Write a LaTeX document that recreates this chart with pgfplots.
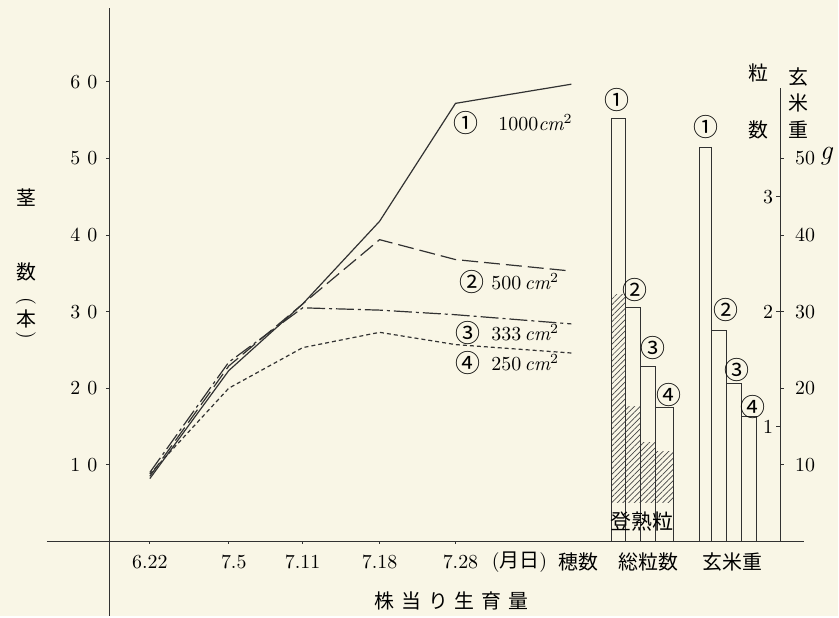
\documentclass[border=0pt]{standalone}
\usepackage{pgfplots}
\pgfplotsset{compat=1.18}
\usepackage{fontspec}
\usetikzlibrary{patterns.meta}
\newfontfamily\cjk{Noto Sans CJK JP}
\definecolor{bg}{RGB}{249,246,230}
\definecolor{ink}{RGB}{50,50,50}
\newcommand{\fs}{\fontsize{10bp}{12bp}\selectfont}
\newcommand{\cn}[1]{{\fontsize{12.5bp}{13bp}\selectfont\cjk #1}}
\begin{document}
\begin{tikzpicture}
\begin{axis}[
  scale only axis, width=419.5bp, height=308.5bp,
  xmin=0, xmax=839, ymin=-9.783, ymax=70.696,
  axis lines=none, clip=false, no markers,
  axis background/.style={fill=bg},
  every node/.style={text=ink, font=\fs, inner sep=0pt},
]
% ---- axes ----
\draw[ink, line width=0.5bp] (axis cs:110,69.65) -- (axis cs:110,-9.783);
\draw[ink, line width=0.5bp] (axis cs:47,0) -- (axis cs:805,0);
\draw[ink, line width=0.5bp] (axis cs:781,0) -- (axis cs:781,59.2);
\pgfplotsinvokeforeach{1,...,6}{
  \draw[ink, line width=0.5bp] (axis cs:106,#10) -- (axis cs:110,#10);
  \node at (axis cs:84,#10) {#1\hspace{3.5bp}0};
}
\pgfplotsinvokeforeach{150,229,303,380,456}{
  \draw[ink, line width=0.5bp] (axis cs:#1,0) -- (axis cs:#1,-0.4);
}
% right axis ticks
\pgfplotsinvokeforeach{10,20,30,40,50}{
  \draw[ink, line width=0.5bp] (axis cs:781,#1) -- (axis cs:785,#1);
}
\pgfplotsinvokeforeach{1,2,3}{
  \draw[ink, line width=0.5bp] (axis cs:777,#1*15) -- (axis cs:781,#1*15);
  \node at (axis cs:769,#1*15) {#1};
}
\node at (axis cs:806,10) {10};
\node at (axis cs:806,20) {20};
\node at (axis cs:806,30) {30};
\node at (axis cs:806,40) {40};
\node at (axis cs:806,50) {50};
\node at (axis cs:827,50.3) {\fontsize{14bp}{14bp}\selectfont\itshape g};
% ---- x labels ----
\node at (axis cs:150,-2.74) {6.22};
\node at (axis cs:234,-2.74) {7.5};
\node at (axis cs:303,-2.74) {7.11};
\node at (axis cs:380,-2.74) {7.18};
\node at (axis cs:461,-2.74) {7.28};
\node at (axis cs:520,-2.74) {(\cjk 月日\normalfont)};
\node at (axis cs:579,-2.74) {\cjk 穂数};
\node at (axis cs:649,-2.74) {\cjk 総粒数};
\node at (axis cs:733,-2.74) {\cjk 玄米重};
\node at (axis cs:452,-7.83) {\cjk 株\hspace{3.5bp}当\hspace{3.5bp}り\hspace{3.5bp}生\hspace{3.5bp}育\hspace{3.5bp}量};
% ---- left y label ----
\node at (axis cs:26,44.87) {\cjk 茎};
\node at (axis cs:26,35.22) {\cjk 数};
\node[rotate=-90] at (axis cs:26,31.3) {(};
\node at (axis cs:26,29.09) {\cjk 本};
\node[rotate=-90] at (axis cs:26,26.9) {)};
% ---- right labels ----
\node at (axis cs:759,61.17) {\cjk 粒};
\node at (axis cs:759,53.74) {\cjk 数};
\node at (axis cs:799,60.65) {\cjk 玄};
\node at (axis cs:799,57.26) {\cjk 米};
\node at (axis cs:799,53.74) {\cjk 重};
% ---- stem count lines ----
\addplot[ink, line width=0.6bp] coordinates {(150,8.2)(229,22.3)(303,31.0)(380,41.8)(456,57.2)(572,59.7)};
\addplot[ink, line width=0.6bp, dash pattern=on 8bp off 3bp] coordinates {(150,8.5)(229,22.9)(303,31.0)(380,39.4)(456,36.8)(572,35.3)};
\addplot[ink, line width=0.6bp, dash pattern=on 9bp off 2bp on 1.5bp off 2bp] coordinates {(150,9.0)(229,23.4)(303,30.5)(380,30.2)(456,29.6)(572,28.4)};
\addplot[ink, line width=0.6bp, dash pattern=on 2bp off 1.5bp] coordinates {(150,8.8)(229,20.0)(303,25.3)(380,27.3)(456,25.7)(572,24.6)};
% line labels
\node at (axis cs:466,54.65) {\cn{①}};
\node[anchor=west] at (axis cs:492,54.65) {1000$\mathit{cm}^2$};
\node at (axis cs:473,33.91) {\cn{②}};
\node[anchor=west] at (axis cs:485,33.91) {500\,$\mathit{cm}^2$};
\node at (axis cs:469,27.26) {\cn{③}};
\node[anchor=west] at (axis cs:485,27.26) {333\,$\mathit{cm}^2$};
\node at (axis cs:469,23.35) {\cn{④}};
\node[anchor=west] at (axis cs:485,23.35) {250\,$\mathit{cm}^2$};
% ---- ripened grains (hatched) ----
\addplot[draw=none, pattern={Lines[angle=45,distance=2bp,line width=0.35bp]}, pattern color=ink!90] coordinates {(612,5.1)(626,5.1)(626,32.2)(612,32.2)} -- cycle;
\addplot[draw=none, pattern={Lines[angle=45,distance=2bp,line width=0.35bp]}, pattern color=ink!90] coordinates {(626,5.1)(641,5.1)(641,17.6)(626,17.6)} -- cycle;
\addplot[draw=none, pattern={Lines[angle=45,distance=2bp,line width=0.35bp]}, pattern color=ink!90] coordinates {(641,5.1)(656,5.1)(656,12.9)(641,12.9)} -- cycle;
\addplot[draw=none, pattern={Lines[angle=45,distance=2bp,line width=0.35bp]}, pattern color=ink!90] coordinates {(656,5.1)(674,5.1)(674,11.7)(656,11.7)} -- cycle;
% ---- total grain bars ----
\addplot[ybar, bar shift=0pt, bar width=14, draw=ink, fill=none, line width=0.55bp] coordinates {(619,55.2)};
\addplot[ybar, bar shift=0pt, bar width=15, draw=ink, fill=none, line width=0.55bp] coordinates {(633.5,30.5)};
\addplot[ybar, bar shift=0pt, bar width=15, draw=ink, fill=none, line width=0.55bp] coordinates {(648.5,22.8)};
\addplot[ybar, bar shift=0pt, bar width=18, draw=ink, fill=none, line width=0.55bp] coordinates {(665,17.5)};
% ---- brown rice weight bars ----
\addplot[ybar, bar shift=0pt, bar width=12, draw=ink, fill=none, line width=0.55bp] coordinates {(706,51.4)};
\addplot[ybar, bar shift=0pt, bar width=15, draw=ink, fill=none, line width=0.55bp] coordinates {(719.5,27.5)};
\addplot[ybar, bar shift=0pt, bar width=15, draw=ink, fill=none, line width=0.55bp] coordinates {(734.5,20.6)};
\addplot[ybar, bar shift=0pt, bar width=15, draw=ink, fill=none, line width=0.55bp] coordinates {(749.5,16.3)};
% bar labels
\node at (axis cs:618,57.65) {\cn{①}};
\node at (axis cs:636,32.87) {\cn{②}};
\node at (axis cs:654,25.30) {\cn{③}};
\node at (axis cs:670,19.17) {\cn{④}};
\node at (axis cs:707,54.13) {\cn{①}};
\node at (axis cs:727,30.26) {\cn{②}};
\node at (axis cs:738,22.43) {\cn{③}};
\node at (axis cs:754,17.61) {\cn{④}};
\node at (axis cs:643,2.61) {\fontsize{10.5bp}{11bp}\selectfont\cjk 登熟粒};
\end{axis}
\end{tikzpicture}
\end{document}
